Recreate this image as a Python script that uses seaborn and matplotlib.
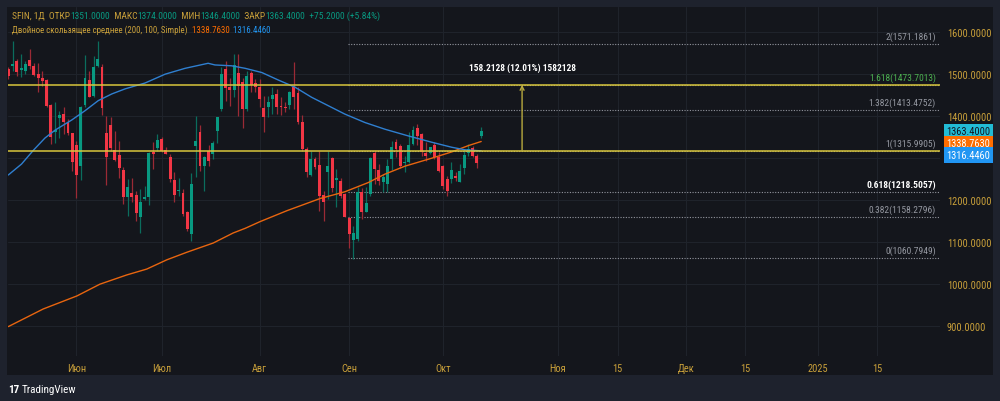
import matplotlib
matplotlib.use('Agg')
import numpy as np
import pandas as pd
import matplotlib.pyplot as plt
import matplotlib.transforms as mtransforms
import seaborn as sns

# daily candles SFIN
opens = [1511, 1519, 1530, 1509, 1507, 1533, 1519, 1499, 1491, 1485,
         1426, 1361, 1395, 1404, 1385, 1359, 1330, 1280, 1426, 1485,
         1446, 1518, 1517, 1359, 1378, 1318, 1306, 1271, 1207, 1215,
         1212, 1160, 1202, 1207, 1313, 1323, 1344, 1318, 1303, 1247,
         1222, 1216, 1170, 1118, 1329, 1361, 1280, 1317, 1310, 1364,
         1416, 1511, 1468, 1462, 1501, 1480, 1416, 1501, 1477, 1468,
         1418, 1420, 1440, 1452, 1424, 1421, 1426, 1468, 1454, 1386,
         1321, 1260, 1297, 1283, 1211, 1265, 1299, 1248, 1245, 1214,
         1156, 1105, 1106, 1219, 1171, 1214, 1311, 1271, 1243, 1237,
         1297, 1337, 1329, 1287, 1291, 1333, 1372, 1356, 1311, 1311,
         1330, 1301, 1281, 1249, 1249, 1256, 1243, 1275, 1311, 1323,
         1305, 1351]
highs = [1515, 1579, 1535, 1547, 1531, 1560, 1526, 1526, 1506, 1487,
         1428, 1432, 1412, 1420, 1392, 1359, 1340, 1424, 1545, 1507,
         1542, 1579, 1523, 1400, 1398, 1363, 1339, 1277, 1249, 1251,
         1222, 1226, 1233, 1313, 1337, 1357, 1350, 1325, 1309, 1265,
         1253, 1225, 1174, 1263, 1400, 1378, 1305, 1330, 1340, 1398,
         1515, 1531, 1491, 1547, 1547, 1491, 1507, 1506, 1487, 1487,
         1448, 1448, 1468, 1464, 1444, 1432, 1460, 1527, 1468, 1402,
         1325, 1317, 1301, 1315, 1222, 1315, 1301, 1273, 1253, 1215,
         1158, 1138, 1230, 1227, 1230, 1301, 1317, 1285, 1261, 1297,
         1340, 1345, 1333, 1305, 1361, 1376, 1380, 1359, 1337, 1326,
         1338, 1314, 1283, 1257, 1291, 1265, 1285, 1321, 1333, 1329,
         1309, 1374]
lows = [1487, 1507, 1495, 1493, 1499, 1511, 1495, 1457, 1472, 1420,
        1333, 1336, 1346, 1356, 1355, 1269, 1204, 1247, 1420, 1444,
        1444, 1515, 1402, 1236, 1317, 1293, 1253, 1190, 1162, 1194,
        1150, 1122, 1200, 1187, 1273, 1317, 1313, 1309, 1243, 1194,
        1210, 1162, 1125, 1102, 1255, 1269, 1222, 1281, 1297, 1334,
        1412, 1436, 1424, 1444, 1400, 1371, 1412, 1456, 1457, 1420,
        1361, 1398, 1404, 1404, 1402, 1408, 1416, 1416, 1380, 1317,
        1255, 1257, 1273, 1174, 1150, 1202, 1218, 1183, 1204, 1158,
        1085, 1059, 1101, 1154, 1170, 1208, 1237, 1235, 1219, 1219,
        1271, 1301, 1275, 1267, 1287, 1330, 1330, 1305, 1293, 1309,
        1297, 1265, 1225, 1208, 1241, 1245, 1242, 1261, 1305, 1301,
        1275, 1346.4]
closes = [1494, 1523, 1504, 1514, 1523, 1518, 1498, 1489, 1483, 1423,
          1349, 1366, 1402, 1385, 1359, 1291, 1260, 1420, 1489, 1445,
          1517, 1536, 1419, 1301, 1323, 1295, 1276, 1207, 1231, 1206,
          1168, 1195, 1207, 1311, 1309, 1342, 1317, 1310, 1249, 1211,
          1224, 1165, 1130, 1237, 1341, 1280, 1301, 1292, 1334, 1396,
          1499, 1466, 1462, 1521, 1472, 1416, 1494, 1474, 1468, 1440,
          1396, 1432, 1450, 1421, 1420, 1418, 1456, 1445, 1384, 1321,
          1265, 1297, 1277, 1210, 1194, 1281, 1228, 1253, 1210, 1160,
          1118, 1121, 1218, 1172, 1192, 1299, 1273, 1245, 1255, 1281,
          1326, 1322, 1281, 1289, 1330, 1367, 1353, 1313, 1305, 1325,
          1301, 1269, 1232, 1222, 1271, 1252, 1268, 1307, 1321, 1305,
          1287, 1363.4]

# double moving average (200 / 100), sampled along the lines
ma200_bar = [0, 8.2, 16.1, 21.5, 27.8, 32.5, 37.2, 41.9, 48.1, 52.8, 55.6, 59.1,
             65.4, 73.2, 79.0, 84.5, 88.4, 93.1, 99.4, 104.1, 108.0, 111]
ma200_val = [898, 940, 971, 999, 1021, 1035, 1057, 1075, 1097, 1121, 1132, 1148,
             1174, 1203, 1219, 1241, 1261, 1280, 1299, 1314, 1329, 1338.763]
ma100_bar = [0, 3.1, 5.9, 8.6, 11.0, 14.9, 18.0, 21.1, 24.3, 27.4, 32.1, 36.8, 41.5,
             46.9, 48.5, 52.4, 55.6, 59.5, 63.4, 67.3, 71.2, 75.1, 79.0, 83.7, 88.4,
             93.9, 99.4, 104.1, 107.2, 111]
ma100_val = [1259, 1285, 1318, 1347, 1366, 1390, 1412, 1436, 1452, 1464, 1478, 1499, 1513,
             1525, 1521, 1519, 1513, 1503, 1485, 1468, 1444, 1424, 1404, 1384, 1368,
             1352, 1337, 1325, 1319, 1316.446]

# fibonacci extension + horizontal lines + measure
fib_ratio = ['2', '1.618', '1.382', '1', '0.618', '0.382', '0']
fib_price = [1571.1861, 1473.7013, 1413.4752, 1315.9905, 1218.5057, 1158.2796, 1060.7949]
fib_start_bar = 79.7
hline_price = [1473.7013, 1315.9905]
measure_bar = 120.6
measure_text = '158.2128 (12.01%) 1582128'

month_bar = [16, 36, 59, 80, 102, 129, 143, 159, 173, 190, 204]
month_label = ['Июн', 'Июл', 'Авг', 'Сен', 'Окт', 'Ноя', '15', 'Дек', '15', '2025', '15']
price_ticks = [900, 1000, 1100, 1200, 1300, 1400, 1500, 1600]
hidden_tick = 1300  # covered by the last-value tags in the original

tag_price = [1363.4, 1338.763, 1316.446]

# colours
OUTER = '#1e222d'
PANE = '#14161c'
GOLD = '#c9a03a'
TEAL = '#089981'
UP, DOWN = '#089981', '#f23645'
UP_WICK, DOWN_WICK = '#0b6d5d', '#9b2a35'
ORANGE, BLUE = '#e8650f', '#2f7fd0'
YELLOW = '#d8c63c'

sns.set_theme(style='dark', rc={'axes.facecolor': PANE, 'figure.facecolor': OUTER,
                                'grid.color': '#1f232b', 'grid.linewidth': 0.8})
plt.rcParams['font.family'] = ['Roboto Condensed', 'Archivo Narrow', 'Liberation Sans', 'DejaVu Sans']

fig = plt.figure(figsize=(10, 4.02), dpi=100)
fig.patches.append(plt.Rectangle((0.007, 1 - 376 / 402), 0.986, 368 / 402,
                                 transform=fig.transFigure, fc=PANE, ec='none', zorder=-5))
ax = fig.add_axes([7.5 / 1000, 1 - 357 / 402, 932.5 / 1000, 349 / 402])
ax.set_facecolor(PANE)
for s in ax.spines.values():
    s.set_visible(False)

df = pd.DataFrame({'open': opens, 'high': highs, 'low': lows, 'close': closes})
df['bar'] = np.arange(len(df))
up = df['close'] >= df['open']

ax.vlines(df['bar'], df['low'], df['high'],
          colors=np.where(up, UP_WICK, DOWN_WICK), lw=0.9, zorder=3)
ax.bar(df['bar'], np.maximum((df['close'] - df['open']).abs(), 1.8),
       bottom=np.minimum(df['open'], df['close']), width=0.68,
       color=np.where(up, UP, DOWN), linewidth=0, zorder=4)

sns.lineplot(x=ma200_bar, y=ma200_val, ax=ax, color=ORANGE, lw=1.0, zorder=5)
sns.lineplot(x=ma100_bar, y=ma100_val, ax=ax, color=BLUE, lw=1.0, zorder=5)

x_right = 218.7
ax.set_xlim(-0.19, x_right)
ax.set_ylim(828, 1659)

# fib levels
ax.hlines(fib_price, fib_start_bar, x_right, colors='#9497a0',
          linestyles=(0, (1, 1.4)), lw=0.8, zorder=2)
lbl_tr = mtransforms.blended_transform_factory(ax.transAxes, ax.transData)
for r, p in zip(fib_ratio, fib_price):
    col = '#4caf50' if r == '1.618' else ('#ffffff' if r == '0.618' else '#9598a1')
    ax.annotate(f'{r}({p:.4f})', (0.9957, p), xycoords=lbl_tr, xytext=(0, 2.2),
                textcoords='offset points', ha='right', va='bottom', fontsize=6.8,
                color=col, fontweight='bold' if r == '0.618' else 'normal', zorder=6)

for p in hline_price:
    ax.axhline(p, color=YELLOW, lw=1.1, zorder=6)

ax.annotate('', xy=(measure_bar, hline_price[0]), xytext=(measure_bar, hline_price[1]),
            arrowprops=dict(arrowstyle='->', color='#b8a93e', lw=1.0,
                            shrinkA=0, shrinkB=0, mutation_scale=7), zorder=7)
ax.annotate(measure_text, (measure_bar, hline_price[0]), xytext=(0, 12.5),
            textcoords='offset points', ha='center', va='center', fontsize=6.7,
            color='white', fontweight='bold', zorder=7)

# axes / ticks
ax.set_xticks(month_bar)
ax.set_xticklabels(month_label)
ax.yaxis.tick_right()
ax.set_yticks(price_ticks)
ax.set_yticklabels(['' if v == hidden_tick else f'{v:.4f}' for v in price_ticks])
ax.tick_params(axis='y', length=0, pad=5, labelsize=7.5, labelcolor=GOLD)
ax.tick_params(axis='x', length=0, pad=5, labelsize=7.5, labelcolor=GOLD)
ax.grid(True, color='#1f232b', lw=0.8, zorder=0)
ax.set_xlabel('')
ax.set_ylabel('')
if ax.get_legend():
    ax.get_legend().remove()

# last value tags on the price scale
tag_col = ['#22bcd6', '#ff6d00', '#2196f3']
tag_txt = ['#131722', 'white', 'white']
tag_shift = [0, -1.4, -3.0]
for p, c, tc, dy in zip(tag_price, tag_col, tag_txt, tag_shift):
    ax.annotate(f'{p:.4f}', (1.0, p), xycoords=lbl_tr, xytext=(4.5, dy),
                textcoords='offset points', ha='left', va='center', fontsize=7.5,
                color=tc, annotation_clip=False, zorder=10,
                bbox=dict(boxstyle='square,pad=0.25', fc=c, ec='none'))

# header legend
renderer = fig.canvas.get_renderer()


def write_line(y, parts, size, x0=12):
    x = x0 / 1000
    for s, c in parts:
        t = fig.text(x, y, s, color=c, fontsize=size, va='center', ha='left')
        x = t.get_window_extent(renderer).x1 / fig.bbox.width


write_line(1 - 16.5 / 402, [('SFIN, 1Д  ОТКР', GOLD), ('1351.0000', TEAL),
                            ('  МАКС', GOLD), ('1374.0000', TEAL),
                            ('  МИН', GOLD), ('1346.4000', TEAL),
                            ('  ЗАКР', GOLD), ('1363.4000', TEAL),
                            ('  +75.2000 (+5.84%)', TEAL)], 6.8)
write_line(1 - 30.5 / 402, [('Двойное скользящее среднее (200, 100, Simple)', GOLD),
                            ('  1338.7630', '#ff6d00'), ('  1316.4460', '#2196f3')], 6.4)

fig.text(8 / 1000, 1 - 390 / 402, '17', color='white', fontsize=8, fontweight='bold',
         va='center', ha='left')
fig.text(22 / 1000, 1 - 390 / 402, 'TradingView', color='white', fontsize=8,
         va='center', ha='left')

fig.savefig('out.png', dpi=100, facecolor=OUTER)
print('out.png')
